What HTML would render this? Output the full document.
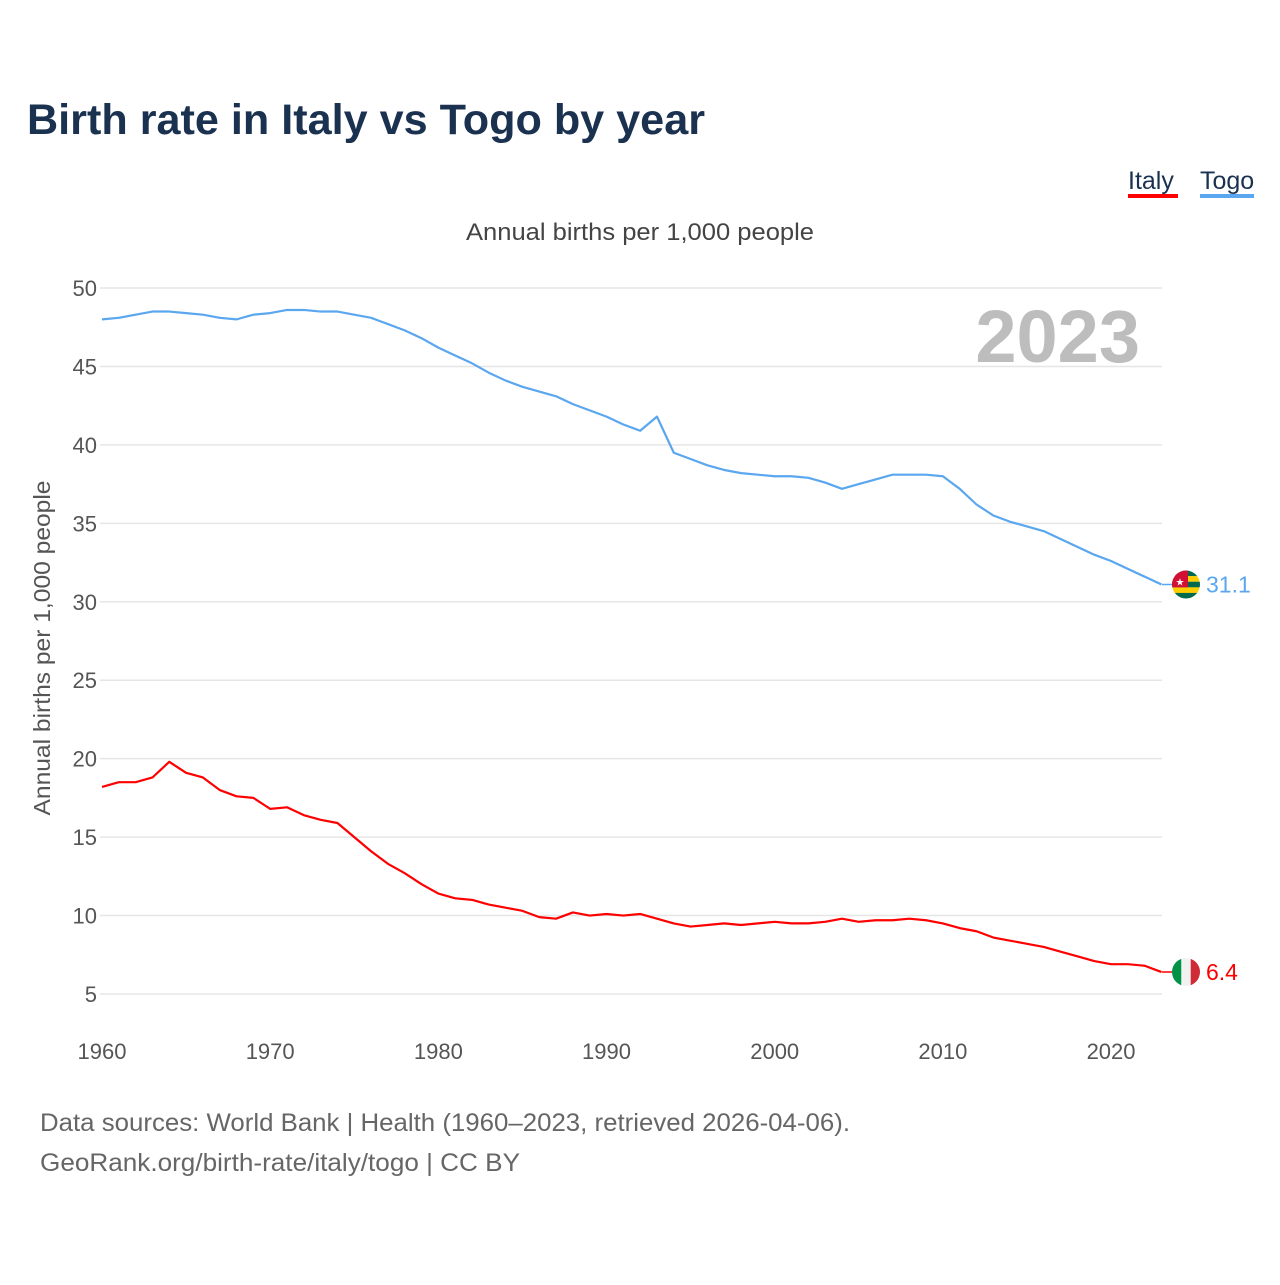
<!DOCTYPE html>
<html><head><meta charset="utf-8"><style>
body{margin:0;background:#fff;width:1280px;height:1280px;overflow:hidden;font-family:"Liberation Sans",sans-serif}
</style></head><body>
<svg width="1280" height="1280" xmlns="http://www.w3.org/2000/svg" font-family="Liberation Sans, sans-serif">
<text x="27" y="134" font-size="43" font-weight="bold" fill="#1b3150" textLength="678" lengthAdjust="spacingAndGlyphs">Birth rate in Italy vs Togo by year</text>
<g>
<text x="1128" y="189" font-size="25" fill="#1b3150">Italy</text>
<rect x="1128" y="194" width="50" height="4" fill="#ff0000"/>
<text x="1200" y="189" font-size="25" fill="#1b3150">Togo</text>
<rect x="1200" y="194" width="54" height="4" fill="#5aa7ef"/>
</g>
<text x="640" y="240" font-size="24" fill="#444" text-anchor="middle" textLength="348" lengthAdjust="spacingAndGlyphs">Annual births per 1,000 people</text>
<text transform="translate(50,648) rotate(-90)" font-size="23" fill="#555" text-anchor="middle" textLength="335" lengthAdjust="spacingAndGlyphs">Annual births per 1,000 people</text>
<text x="1140" y="362" font-size="74" font-weight="bold" fill="#bdbdbd" text-anchor="end">2023</text>
<g id="grid"></g><g id="xt"></g><g id="lines"></g><g id="ends"></g>
<text x="40" y="1131" font-size="25" fill="#666" textLength="810" lengthAdjust="spacingAndGlyphs">Data sources: World Bank | Health (1960–2023, retrieved 2026-04-06).</text>
<text x="40" y="1171" font-size="25" fill="#666" textLength="480" lengthAdjust="spacingAndGlyphs">GeoRank.org/birth-rate/italy/togo | CC BY</text>
</svg>
<script>
const years=[];for(let y=1960;y<=2023;y++)years.push(y);
const yTicks=[5,10,15,20,25,30,35,40,45,50];
const xTicks=[1960,1970,1980,1990,2000,2010,2020];
const togo=[48.0,48.1,48.3,48.5,48.5,48.4,48.3,48.1,48.0,48.3,48.4,48.6,48.6,48.5,48.5,48.3,48.1,47.7,47.3,46.8,46.2,45.7,45.2,44.6,44.1,43.7,43.4,43.1,42.6,42.2,41.8,41.3,40.9,41.8,39.5,39.1,38.7,38.4,38.2,38.1,38.0,38.0,37.9,37.6,37.2,37.5,37.8,38.1,38.1,38.1,38.0,37.2,36.2,35.5,35.1,34.8,34.5,34.0,33.5,33.0,32.6,32.1,31.6,31.1];
const italy=[18.2,18.5,18.5,18.8,19.8,19.1,18.8,18.0,17.6,17.5,16.8,16.9,16.4,16.1,15.9,15.0,14.1,13.3,12.7,12.0,11.4,11.1,11.0,10.7,10.5,10.3,9.9,9.8,10.2,10.0,10.1,10.0,10.1,9.8,9.5,9.3,9.4,9.5,9.4,9.5,9.6,9.5,9.5,9.6,9.8,9.6,9.7,9.7,9.8,9.7,9.5,9.2,9.0,8.6,8.4,8.2,8.0,7.7,7.4,7.1,6.9,6.9,6.8,6.4];
const NS="http://www.w3.org/2000/svg";
const X=y=>102+(y-1960)*(1161.5-102)/63;
const Y=v=>288+(50-v)*(994-288)/45;
function mk(t,a,p){const e=document.createElementNS(NS,t);for(const k in a)e.setAttribute(k,a[k]);document.getElementById(p).appendChild(e);return e;}
yTicks.forEach(v=>{
 const l=mk('line',{x1:100,x2:1162,y1:Y(v),y2:Y(v),stroke:'#e6e6e6','stroke-width':1.5},'grid');
 
 
 const t=mk('text',{x:97,y:Y(v)+8,'font-size':22,fill:'#555','text-anchor':'end'},'grid');t.textContent=v;
 
 
});
xTicks.forEach(v=>{
 const t=mk('text',{x:X(v),y:1059,'font-size':22,fill:'#555','text-anchor':'middle'},'xt');t.textContent=v;
 
 
});
function line(d,c,n){
 const p=mk('polyline',{points:d.map((v,i)=>X(years[i])+','+Y(v)).join(' '),fill:'none',stroke:c,'stroke-width':2.2,'stroke-linejoin':'round'},'lines');
 
 
}
line(togo,'#5aa7ef','togo-line');line(italy,'#ff0000','italy-line');
function end(d,c,n,flag){
 const v=d[d.length-1],y=Y(v),cx=1186;
 const g=mk('g',{},'ends');
 
 
 mk('line',{x1:1162,x2:cx,y1:y,y2:y,stroke:c,'stroke-width':1.5},'ends');
 const cp='cp'+n;const defs=mk('clipPath',{id:cp},'ends');const cc=document.createElementNS(NS,'circle');cc.setAttribute('cx',cx);cc.setAttribute('cy',y);cc.setAttribute('r',14);defs.appendChild(cc);
 const fg=mk('g',{'clip-path':'url(#'+cp+')'},'ends');
 
 
 flag(fg,cx,y);
 const t=mk('text',{x:1206,y:y+8,'font-size':23,fill:c},'ends');t.textContent=v;
 
 
}
function r(g,a){const e=document.createElementNS(NS,'rect');for(const k in a)e.setAttribute(k,a[k]);g.appendChild(e);}
end(togo,'#5aa7ef','togo',(g,cx,cy)=>{
 const cols=['#006a4e','#ffce00','#006a4e','#ffce00','#006a4e'];
 cols.forEach((c,i)=>r(g,{x:cx-14,y:cy-14+i*5.6,width:28,height:5.7,fill:c}));
 r(g,{x:cx-14,y:cy-14,width:16,height:16.8,fill:'#d21034'});
 const s=document.createElementNS(NS,'text');s.setAttribute('x',cx-6);s.setAttribute('y',cy+1);s.setAttribute('font-size',10);s.setAttribute('fill','#fff');s.setAttribute('text-anchor','middle');s.textContent='★';g.appendChild(s);
});
end(italy,'#ff0000','italy',(g,cx,cy)=>{
 r(g,{x:cx-14,y:cy-14,width:9.4,height:28,fill:'#009246'});
 r(g,{x:cx-4.7,y:cy-14,width:9.4,height:28,fill:'#f1f2f1'});
 r(g,{x:cx+4.7,y:cy-14,width:9.4,height:28,fill:'#ce2b37'});
});
</script>
</body></html>
